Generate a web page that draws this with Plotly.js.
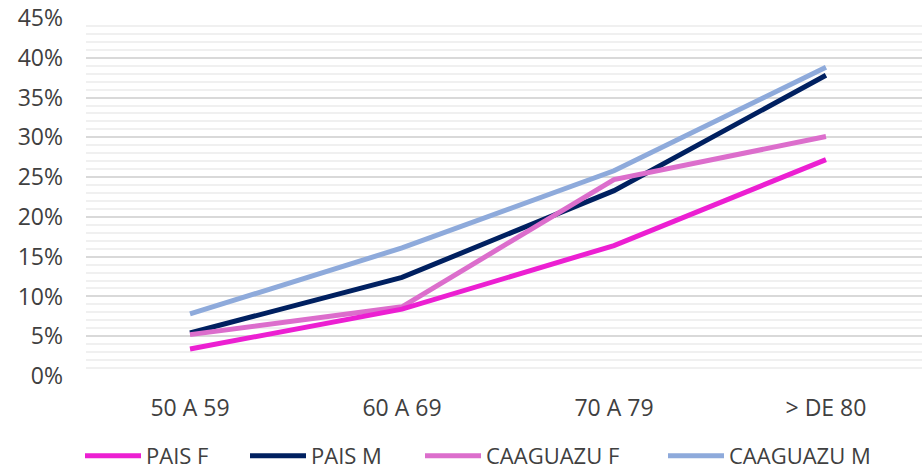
<!DOCTYPE html>
<html>
<head>
<meta charset="utf-8">
<script src="https://cdn.plot.ly/plotly-3.0.1.min.js"></script>
<style>html,body{margin:0;padding:0;background:#fff;}#chart{width:922px;height:474px;}</style>
</head>
<body>
<div id="chart"></div>
<script>
const categories = ["50 A 59", "60 A 69", "70 A 79", "> DE 80"];
const paisF = [0.034, 0.084, 0.164, 0.272];
const paisM = [0.054, 0.124, 0.233, 0.378];
const caaguazuF = [0.052, 0.087, 0.247, 0.301];
const caaguazuM = [0.078, 0.161, 0.258, 0.388];
const seriesNames = ["PAIS F", "PAIS M", "CAAGUAZU F", "CAAGUAZU M"];
const yTickVals = [0, 0.05, 0.10, 0.15, 0.20, 0.25, 0.30, 0.35, 0.40, 0.45];
const yTickText = ["0%", "5%", "10%", "15%", "20%", "25%", "30%", "35%", "40%", "45%"];

const FONT = "Open Sans, Noto Sans, sans-serif";
function tr(name, y, color, leg) {
  return {
    type: "scatter", mode: "lines", name: name, x: categories, y: y,
    line: {color: color, width: 5}, legend: leg, hoverinfo: "skip"
  };
}
const data = [
  tr(seriesNames[3], caaguazuM, "#8EAADB", "legend4"),
  tr(seriesNames[1], paisM, "#002060", "legend2"),
  tr(seriesNames[2], caaguazuF, "#DC6ECC", "legend3"),
  tr(seriesNames[0], paisF, "#EC1FD2", "legend")
];
function leg(px) {
  return {
    orientation: "h", xref: "container", yref: "container",
    x: (px - 5) / 922, xanchor: "left", y: (474 - 456) / 474, yanchor: "middle",
    itemwidth: 56, font: {family: FONT, size: 22, color: "#404040"},
    bgcolor: "rgba(0,0,0,0)", borderwidth: 0
  };
}
const layout = {
  width: 922, height: 474,
  margin: {l: 86, r: 0, t: 18, b: 98, autoexpand: false},
  paper_bgcolor: "#fff", plot_bgcolor: "#fff",
  font: {family: FONT, size: 23, color: "#404040"},
  showlegend: true,
  legend: leg(85),
  legend2: leg(250),
  legend3: leg(425),
  legend4: leg(668),
  xaxis: {
    type: "category", range: [-0.4906, 3.453],
    showgrid: false, zeroline: false, showline: false, ticks: "",
    ticklabelstandoff: 16,
    tickfont: {family: FONT, size: 23, color: "#404040"}
  },
  yaxis: {
    range: [0, 0.45], tickvals: yTickVals, ticktext: yTickText,
    showgrid: true, gridcolor: "#d9d9d9", gridwidth: 2,
    zeroline: false, showline: false, ticks: "",
    ticklabelstandoff: 22,
    tickfont: {family: FONT, size: 23, color: "#404040"},
    minor: {dtick: 0.01, showgrid: true, gridcolor: "#f0f0f0", gridwidth: 2}
  }
};
Plotly.newPlot("chart", data, layout, {displayModeBar: false, staticPlot: true}).then(function () {
  document.querySelectorAll(".legendlines path").forEach(function (p) {
    p.setAttribute("d", "M5,0h56");
  });
});
</script>
</body>
</html>
